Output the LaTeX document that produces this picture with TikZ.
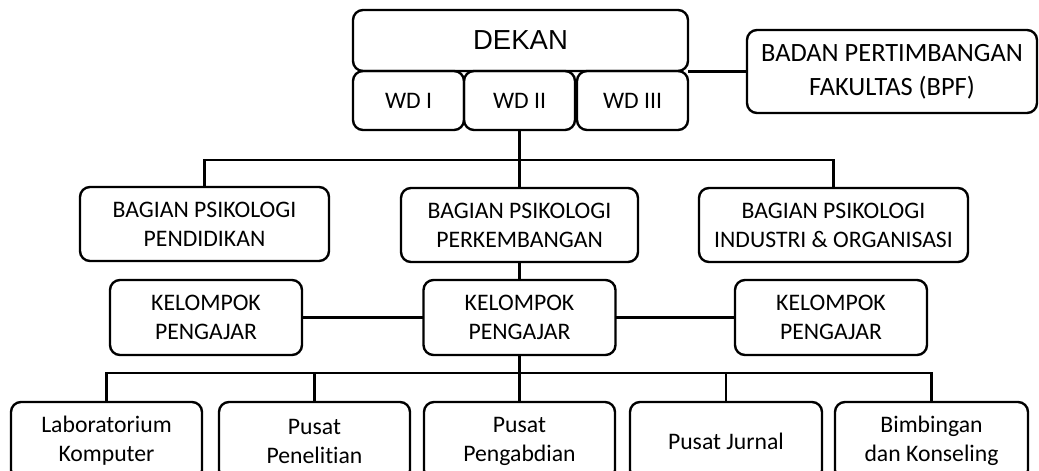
\documentclass[tikz,border=0pt]{standalone}
\usepackage{fontspec}
\setmainfont{Carlito}[Ligatures=CommonOff]
\newfontfamily\arialfont{Liberation Sans}
\usetikzlibrary{positioning}

\begin{document}
\begin{tikzpicture}[x=1pt,y=-1pt,line width=2.4pt,
		font=\fontsize{23.7}{29}\selectfont]
		\tikzstyle{unit}=[draw=black,rounded corners=10pt,align=center,inner sep=0pt,outer sep=0pt]
		\tikzstyle{wd}=[unit,minimum width=111pt,minimum height=59pt]
		\tikzstyle{bagian}=[unit,minimum height=74pt]
		\tikzstyle{kelompok}=[unit,minimum width=192pt,minimum height=75pt]
		\tikzstyle{pusat}=[unit,minimum width=191pt,minimum height=78pt]
		
		\useasboundingbox (0,0) rectangle (1039,471);
		
		\node[unit,minimum width=335pt,minimum height=61pt,font=\arialfont\fontsize{27.5}{32}\selectfont]
			(dekan) at (520.5,40.5) {DEKAN};
		\node[wd,below right=0pt of dekan.south west,anchor=north west] (wd1) {WD I};
		\node[wd,right=0pt of wd1]   (wd2) {WD II};
		\node[wd,right=2pt of wd2]   (wd3) {WD III};
		\node[unit,minimum width=290pt,minimum height=83pt,font=\fontsize{26.4}{34}\selectfont]
			(bpf) at (892,71.5) {BADAN PERTIMBANGAN\\FAKULTAS (BPF)};
		
		\node[bagian,minimum width=249pt] (pend) at (204.5,224) {BAGIAN PSIKOLOGI\\PENDIDIKAN};
		\node[bagian,minimum width=237pt] (perk) at (519.5,225) {BAGIAN PSIKOLOGI\\PERKEMBANGAN};
		\node[bagian,minimum width=269pt] (ind)  at (833.5,225) {BAGIAN PSIKOLOGI\\INDUSTRI \& ORGANISASI};
		
		\node[kelompok] (kl) at (206,317.5) {KELOMPOK\\PENGAJAR};
		\node[kelompok] (km) at (519.5,317.5) {KELOMPOK\\PENGAJAR};
		\node[kelompok] (kr) at (831,317.5) {KELOMPOK\\PENGAJAR};
		
		\node[pusat] (lab) at (106.5,441) {Laboratorium\\Komputer};
		\node[pusat] (pen) at (314.5,441) {Pusat\\Penelitian};
		\node[pusat] (abd) at (519.5,441) {Pusat\\Pengabdian};
		\node[pusat,minimum width=192pt] (jur) at (726,441) {Pusat Jurnal};
		\node[pusat,minimum width=193pt] (bim) at (931.5,441) {Bimbingan\\dan Konseling};
		
		\coordinate (bus1) at (520,160);
		\coordinate (bus2) at (520,373);
		
		\draw (bpf.west -| dekan.east) -- (bpf.west);
		\draw (wd2.south) -- (perk.north);
		\draw (pend.north) |- (bus1) -| (ind.north);
		\draw (perk.south) -- (km.north);
		\draw (kl.east) -- (km.west);
		\draw (km.east) -- (kr.west);
		\draw (km.south) -- (abd.north);
		\draw (lab.north) |- (bus2) -| (bim.north);
		\draw (pen.north) -- (pen.north |- bus2);
		\draw (jur.north) -- (jur.north |- bus2);
\end{tikzpicture}
\end{document}
